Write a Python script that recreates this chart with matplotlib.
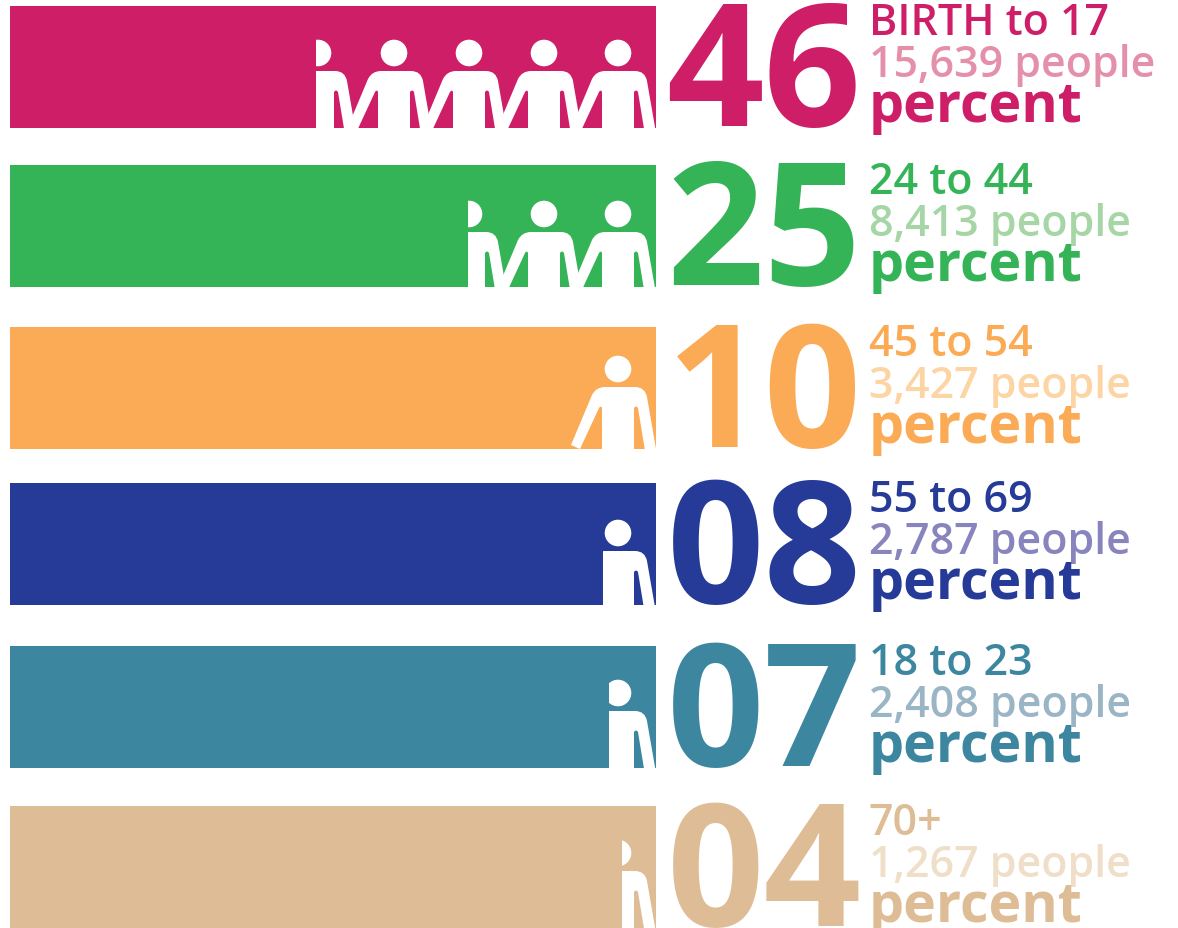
import matplotlib
matplotlib.use('Agg')
import matplotlib.pyplot as plt
from matplotlib.patches import Rectangle, Circle, PathPatch
from matplotlib.path import Path

plt.rcParams['font.family'] = ['Open Sans', 'DejaVu Sans']

percents = ['46', '25', '10', '08', '07', '04']
age_labels = ['BIRTH to 17', '24 to 44', '45 to 54', '55 to 69', '18 to 23', '70+']
people = ['15,639 people', '8,413 people', '3,427 people', '2,787 people', '2,408 people', '1,267 people']
colors = ['#CD1E67', '#34B457', '#FBAB55', '#263A97', '#3C86A0', '#DEBD96']
pale_colors = ['#E590AB', '#A6D6A5', '#FDD5A5', '#8884BE', '#9AB5C5', '#EFDEC8']

# layout, in pixels of the picture
bar_left, bar_right = 10, 656
bar_tops = [7, 166, 328, 484, 647, 807]
bar_height = 122
icon_left = [316, 468, 568, 603, 609, 622]
icon_centers = [[318, 394, 469, 544, 618], [469, 544, 618], [618], [618], [618], [618]]
head_above_bottom = [75, 73, 80, 72, 75, 75]

W, H = 1178, 929
fig = plt.figure(figsize=(W / 100, H / 100), dpi=100)
ax = fig.add_axes([0, 0, 1, 1])
ax.set_xlim(0, W)
ax.set_ylim(H, 0)
ax.axis('off')


def person_path(cx, hy):
    # offsets from the head centre, right arm runs on past the bar and gets clipped
    pts = [
        (0, 18), (17, 18),
        (27, 18), (29, 28),
        (41.5, 100), (30, 100),
        (20, 39), (18, 36), (16, 39),
        (16, 100), (-16, 100),
        (-16, 39), (-17, 36), (-19, 39),
        (-38, 80), (-47, 76),
        (-26, 26), (-22, 18), (-13, 18),
        (0, 18),
    ]
    codes = [Path.MOVETO, Path.LINETO, Path.CURVE3, Path.CURVE3, Path.LINETO, Path.LINETO,
             Path.LINETO, Path.CURVE3, Path.CURVE3, Path.LINETO, Path.LINETO,
             Path.LINETO, Path.CURVE3, Path.CURVE3, Path.LINETO, Path.LINETO,
             Path.LINETO, Path.CURVE3, Path.CURVE3, Path.CLOSEPOLY]
    return Path([(cx + dx, hy + dy) for dx, dy in pts], codes)


for i in range(len(percents)):
    top = bar_tops[i]
    bottom = top + bar_height
    ax.add_patch(Rectangle((bar_left, top), bar_right - bar_left, bar_height, fc=colors[i], ec='none'))

    clip = Rectangle((icon_left[i], top), bar_right - icon_left[i], bar_height, transform=ax.transData)
    for cx in icon_centers[i]:
        hy = bottom - head_above_bottom[i]
        head = Circle((cx, hy), 13.3, fc='white', ec='none')
        body = PathPatch(person_path(cx, hy), fc='white', ec='none')
        ax.add_patch(head)
        ax.add_patch(body)
        head.set_clip_path(clip)
        body.set_clip_path(clip)

    ax.text(764, bottom - 3, percents[i], color=colors[i], fontsize=123, fontweight='bold',
            ha='center', va='baseline')
    ax.text(869, bottom - 94, age_labels[i], color=colors[i], fontsize=31, fontweight=600,
            ha='left', va='baseline')
    ax.text(869, bottom - 52, people[i], color=pale_colors[i], fontsize=31, fontweight=600,
            ha='left', va='baseline')
    ax.text(869, bottom - 7, 'percent', color=colors[i], fontsize=40, fontweight='bold',
            ha='left', va='baseline')

fig.savefig('out.png', dpi=100)
